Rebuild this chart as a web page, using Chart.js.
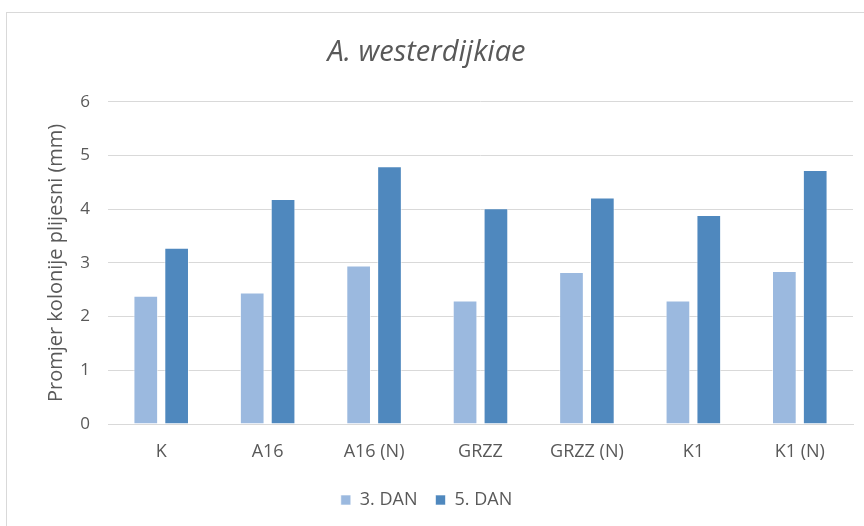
<!DOCTYPE html>
<html><head><meta charset="utf-8">
<script src="https://cdn.jsdelivr.net/npm/chart.js@4/dist/chart.umd.min.js"></script>
<style>
html,body{margin:0;padding:0;background:#fff;overflow:hidden}
#frame{position:absolute;left:6px;top:12px;width:900px;height:600px;border:1px solid #d9d9d9;box-sizing:border-box}
#wrap{position:absolute;left:0;top:0;width:864px;height:526px}
</style></head>
<body>
<div id="frame"></div>
<div id="wrap"><canvas id="c" width="864" height="526"></canvas></div>
<script>
const categories = ["K","A16","A16 (N)","GRZZ","GRZZ (N)","K1","K1 (N)"];
const dan3 = [2.39, 2.45, 2.95, 2.30, 2.83, 2.30, 2.85];
const dan5 = [3.28, 4.19, 4.80, 4.02, 4.22, 3.89, 4.73];
const seriesNames = ["3. DAN","5. DAN"];
const yTicks = [0,1,2,3,4,5,6];
const chartTitle = "A. westerdijkiae";
const yTitle = "Promjer kolonije plijesni (mm)";

const txt = '#595959';
const font = "'Open Sans', sans-serif";
new Chart(document.getElementById('c'), {
  type: 'bar',
  data: {
    labels: categories,
    datasets: [
      {label: seriesNames[0], data: dan3, backgroundColor: '#9BB9DF', borderColor: 'rgba(255,255,255,0.6)', borderWidth: 1},
      {label: seriesNames[1], data: dan5, backgroundColor: '#4F88BE', borderColor: 'rgba(255,255,255,0.6)', borderWidth: 1}
    ]
  },
  options: {
    responsive: false,
    animation: false,
    devicePixelRatio: 1,
    categoryPercentage: 0.58,
    barPercentage: 0.8,
    layout: {padding: {left: 0, right: 11, top: 0, bottom: 7}},
    plugins: {
      title: {display: true, text: chartTitle, color: txt,
        font: {family: font, size: 29, style: 'italic', weight: 'normal'},
        padding: {top: 35, bottom: 32}},
      legend: {position: 'bottom',
        labels: {color: txt, boxWidth: 10, boxHeight: 10, padding: 18,
          font: {family: font, size: 18}}},
      tooltip: {enabled: false}
    },
    scales: {
      x: {
        grid: {display: false},
        border: {display: true, color: '#d9d9d9', width: 1},
        ticks: {color: txt, font: {family: font, size: 18}, padding: 9},
        afterFit: s => { s.height = 49; }
      },
      y: {
        min: 0, max: 6,
        afterBuildTicks: s => { s.ticks = yTicks.map(v => ({value: v})); },
        grid: {color: '#d9d9d9', lineWidth: 1, drawTicks: false},
        border: {display: false},
        ticks: {color: txt, font: {family: font, size: 17}, padding: 18},
        title: {display: true, text: yTitle, color: txt, font: {family: font, size: 20}, padding: {top: 44, bottom: 4}},
        afterFit: s => { s.width = 108; }
      }
    }
  }
});
</script>
</body></html>
